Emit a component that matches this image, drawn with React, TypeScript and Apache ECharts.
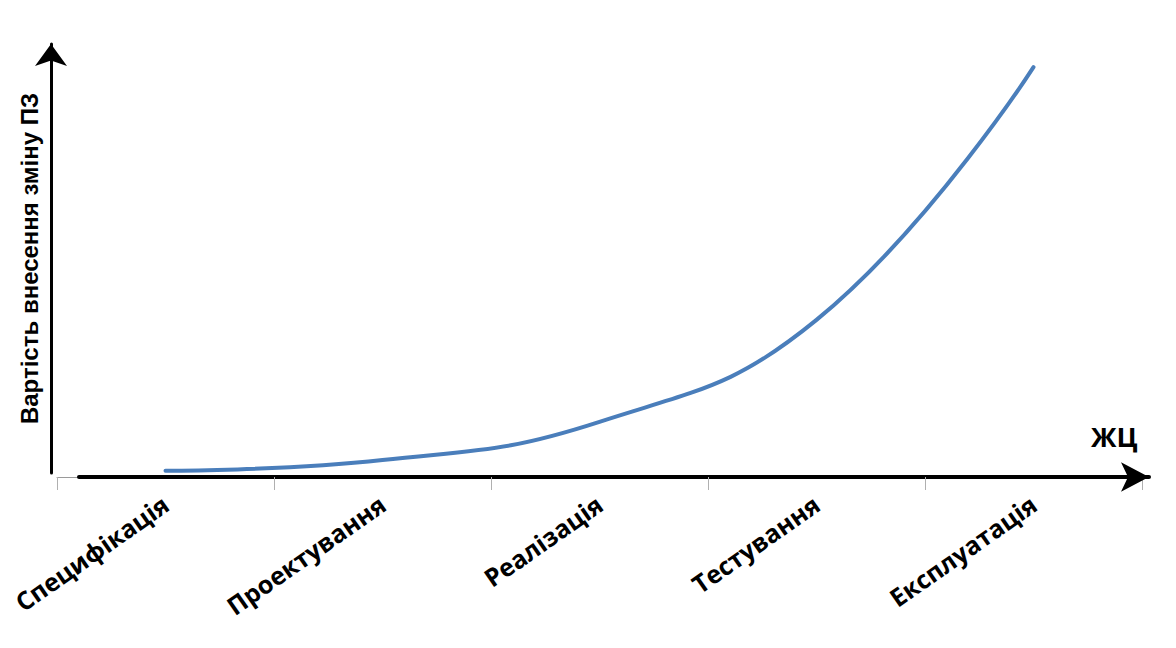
import React, { useEffect, useRef } from "react";
import * as echarts from "echarts";

const categories = ["Специфікація", "Проектування", "Реалізація", "Тестування", "Експлуатація"];
const costValues = [1.4, 3.8, 12.4, 35.3, 92.1];
const yTitle = "Вартість внесення зміну ПЗ";
const xTitle = "ЖЦ";

export default function App() {
  const ref = useRef<HTMLDivElement>(null);
  useEffect(() => {
    if (!ref.current) return;
    const chart = echarts.init(ref.current, null, { renderer: "svg" });
    chart.setOption({
      animation: false,
      backgroundColor: "#ffffff",
      grid: [
        { left: 57, right: 34, top: 32, bottom: 171 },
        { left: 79, right: 27, top: 32, bottom: 171 },
        { left: 51, right: 100, top: 44, bottom: 175 },
      ],
      xAxis: [
        {
          type: "category",
          gridIndex: 0,
          data: categories,
          boundaryGap: true,
          axisLine: { show: true, lineStyle: { color: "#9a9a9a", width: 1 } },
          axisTick: { show: true, length: 13, lineStyle: { color: "#b0b0b0", width: 1 } },
          axisLabel: {
            rotate: 35,
            margin: 24,
            color: "#000",
            fontFamily: "'Open Sans', 'Noto Sans', sans-serif",
            fontWeight: "bold",
            fontSize: 25,
          },
          splitLine: { show: false },
        },
        {
          type: "value",
          gridIndex: 1,
          min: 0,
          max: 1,
          axisLine: {
            show: true,
            lineStyle: { color: "#000", width: 4 },
            symbol: ["none", "arrow"],
            symbolSize: [22, 28],
          },
          axisTick: { show: false },
          axisLabel: { show: false },
          splitLine: { show: false },
        },
        {
          type: "value",
          gridIndex: 2,
          show: false,
        },
      ],
      yAxis: [
        {
          type: "value",
          gridIndex: 0,
          min: 0,
          max: 100,
          show: false,
        },
        {
          type: "value",
          gridIndex: 1,
          show: false,
        },
        {
          type: "value",
          gridIndex: 2,
          min: 0,
          max: 1,
          axisLine: {
            show: true,
            lineStyle: { color: "#000", width: 3 },
            symbol: ["none", "arrow"],
            symbolSize: [24, 22],
          },
          axisTick: { show: false },
          axisLabel: { show: false },
          splitLine: { show: false },
          name: yTitle,
          nameLocation: "middle",
          nameRotate: 90,
          nameGap: 10,
          nameTextStyle: {
            color: "#000",
            fontFamily: "'Liberation Sans Narrow', 'Liberation Sans', sans-serif",
            fontWeight: "bold",
            fontSize: 24,
            verticalAlign: "bottom",
          },
        },
      ],
      graphic: [
        {
          type: "text",
          left: 1091,
          top: 423,
          style: {
            text: xTitle,
            fill: "#000",
            fontFamily: "'Open Sans', 'Noto Sans', sans-serif",
            fontWeight: "bold",
            fontSize: 27,
          },
        },
      ],
      series: [
        {
          type: "line",
          xAxisIndex: 0,
          yAxisIndex: 0,
          data: costValues,
          smooth: 0.45,
          showSymbol: false,
          symbol: "none",
          lineStyle: { color: "#4a7ebb", width: 4, cap: "round" },
        },
      ],
    });
    return () => chart.dispose();
  }, []);
  return (
    <div
      ref={ref}
      style={{ position: "fixed", left: 0, top: 0, width: 1176, height: 648, background: "#fff" }}
    />
  );
}
